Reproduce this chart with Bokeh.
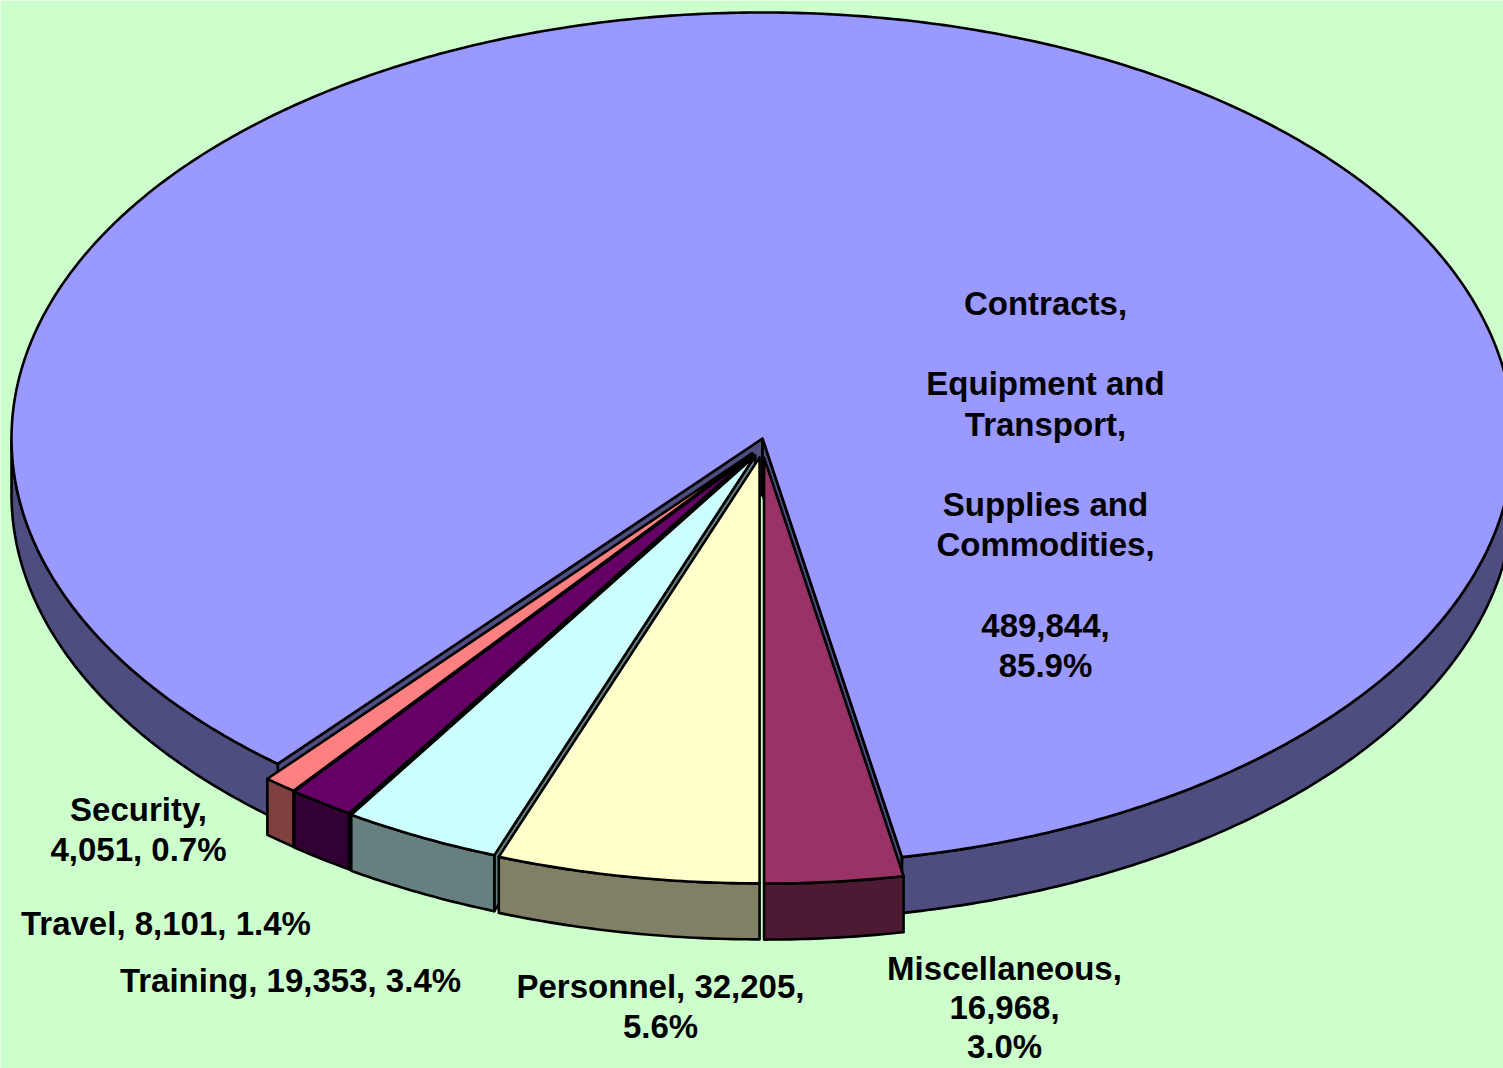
import numpy as np
from bokeh.plotting import figure
from bokeh.models import Range1d, ColumnDataSource
from bokeh.embed import file_html
from bokeh.resources import INLINE
from bokeh.core.properties import value

# ---------------- data ----------------
categories = ["Contracts,\n\nEquipment and\nTransport,\n\nSupplies and\nCommodities,",
              "Miscellaneous,", "Personnel,", "Training,", "Travel,", "Security,"]
amounts = [489844, 16968, 32205, 19353, 8101, 4051]
percents = ["85.9%", "3.0%", "5.6%", "3.4%", "1.4%", "0.7%"]
# how each label is broken into lines ({n}=name, {a}=amount, {p}=percent)
label_formats = ["{n}\n\n{a},\n{p}", "{n}\n{a},\n{p}", "{n} {a},\n{p}",
                 "{n} {a}, {p}", "{n} {a},  {p}", "{n}\n{a}, {p}"]
top_colors = ["#9999FF", "#993366", "#FFFFCC", "#CCFFFF", "#660066", "#FF8080"]
side_colors = ["#4D4D80", "#4D1A33", "#808066", "#668080", "#330033", "#804040"]
exploded = [False, True, True, True, True, True]

# ---------------- layout ----------------
W, H = 1503, 1068
cx, cy, rx, ry, depth = 762.0, 438.0, 751.0, 426.0, 56.0
ex, ey = 0.022, 0.045
label_pos = [(1045, 303), (1004, 968), (660, 986), (290, 980), (170, 923), (138, 809)]
line_heights = [40.2, 39.0, 40.2, 40.2, 40.2, 40.2]

total = float(sum(amounts))
spans = [360.0 * a / total for a in amounts]
start = (180.0 - spans[0] - spans[1]) % 360.0
bounds = []
s = start
for sp in spans:
    bounds.append((s, s + sp))
    s += sp


def rim(theta_deg, off, dz=0.0, r=1.0):
    t = np.radians(theta_deg)
    return (cx + off[0] + rx * r * np.sin(t), cy + off[1] - ry * r * np.cos(t) + dz)


def arc(a, b, off, dz=0.0):
    n = max(int(abs(b - a) * 2) + 2, 3)
    th = np.linspace(a, b, n)
    t = np.radians(th)
    return (list(cx + off[0] + rx * np.sin(t)), list(cy + off[1] - ry * np.cos(t) + dz))


xs, ys, fills = [], [], []


def add(px, py, c):
    xs.append(list(px))
    ys.append(list(py))
    fills.append(c)


def draw_slice(i):
    a, b = bounds[i]
    m = np.radians((a + b) / 2.0)
    off = (ex * rx * np.sin(m), -ey * ry * np.cos(m)) if exploded[i] else (0.0, 0.0)
    ctr = (cx + off[0], cy + off[1])
    # radial faces
    for th, normal in ((a, a - 90.0), (b, b + 90.0)):
        if np.cos(np.radians(normal - 180.0)) > 0.02:
            p = rim(th, off)
            add([ctr[0], p[0], p[0], ctr[0]], [ctr[1], p[1], p[1] + depth, ctr[1] + depth], side_colors[i])
    # outer walls (front half: 90..270 mod 360)
    for k in (-360.0, 0.0, 360.0):
        lo, hi = max(a, 90.0 + k), min(b, 270.0 + k)
        if hi > lo:
            tx, ty = arc(lo, hi, off)
            bx, by = arc(lo, hi, off, depth)
            add(tx + bx[::-1], ty + by[::-1], side_colors[i])
    # top
    tx, ty = arc(a, b, off)
    add([ctr[0]] + tx, [ctr[1]] + ty, top_colors[i])


for i in [0, 5, 4, 3, 2, 1]:
    draw_slice(i)

p = figure(width=W, height=H, x_range=Range1d(0, W), y_range=Range1d(H, 0),
           output_backend="svg", toolbar_location=None, min_border=0)
p.axis.visible = False
p.grid.visible = False
p.outline_line_color = None
p.background_fill_color = "#CCFFCC"
p.border_fill_color = "#CCFFCC"

p.patches(xs="xs", ys="ys", fill_color="fills", line_color="black", line_width=2.6,
          line_join="round", source=ColumnDataSource(dict(xs=xs, ys=ys, fills=fills)))

tx, ty, tt = [], [], []
for i in range(len(categories)):
    txt = label_formats[i].format(n=categories[i], a=f"{amounts[i]:,}", p=percents[i])
    for j, line in enumerate(txt.split("\n")):
        if line:
            tx.append(label_pos[i][0])
            ty.append(label_pos[i][1] + j * line_heights[i])
            tt.append(line)

p.text(x="x", y="y", text="t", source=ColumnDataSource(dict(x=tx, y=ty, t=tt)),
       text_font=value("Liberation Sans"), text_font_style="bold", text_font_size="33px",
       text_align="center", text_baseline="alphabetic", text_color="black")

open("out.html", "w").write(file_html(p, INLINE))
